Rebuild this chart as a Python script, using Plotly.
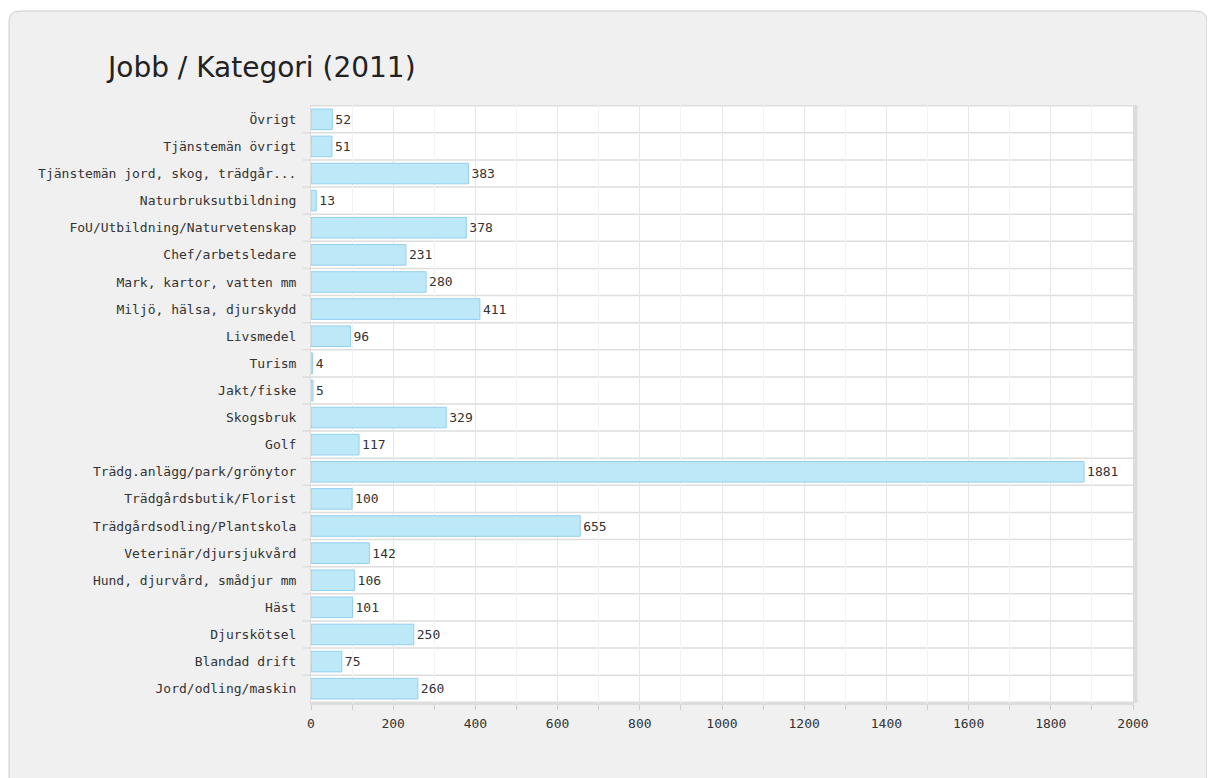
import plotly.graph_objects as go

# categories top to bottom, as in the chart
categories = [
    "Övrigt", "Tjänstemän övrigt", "Tjänstemän jord, skog, trädgår...",
    "Naturbruksutbildning", "FoU/Utbildning/Naturvetenskap", "Chef/arbetsledare",
    "Mark, kartor, vatten mm", "Miljö, hälsa, djurskydd", "Livsmedel", "Turism",
    "Jakt/fiske", "Skogsbruk", "Golf", "Trädg.anlägg/park/grönytor",
    "Trädgårdsbutik/Florist", "Trädgårdsodling/Plantskola", "Veterinär/djursjukvård",
    "Hund, djurvård, smådjur mm", "Häst", "Djurskötsel", "Blandad drift",
    "Jord/odling/maskin",
]
jobs = [52, 51, 383, 13, 378, 231, 280, 411, 96, 4, 5, 329, 117, 1881,
        100, 655, 142, 106, 101, 250, 75, 260]
x_ticks = [0, 200, 400, 600, 800, 1000, 1200, 1400, 1600, 1800, 2000]

font = "DejaVu Sans Mono, monospace"

# plot area in page pixels (page has an 8px body margin)
L, R, T, B = 311, 1133, 105, 703


def px(x):
    return (x - L) / (R - L)


def py(y):
    return (B - y) / (B - T)


fig = go.Figure()
fig.add_trace(go.Bar(
    x=jobs, y=categories, orientation="h",
    marker=dict(color="#bde8f8", line=dict(color="#94cff0", width=1)),
    width=0.76,
    texttemplate="%{x}", textposition="outside", cliponaxis=False,
    textfont=dict(family=font, size=13, color="#333333"),
    hoverinfo="x+y",
))

# rounded panel behind the chart
r = 11
panel = (f"M {px(9 + r)},{py(11)} L {px(1207 - r)},{py(11)} "
         f"Q {px(1207)},{py(11)} {px(1207)},{py(11 + r)} "
         f"L {px(1207)},{py(800)} L {px(9)},{py(800)} L {px(9)},{py(11 + r)} "
         f"Q {px(9)},{py(11)} {px(9 + r)},{py(11)} Z")
fig.add_shape(type="path", path=panel, xref="paper", yref="paper", layer="below",
              fillcolor="#f0f0f0", line=dict(color="#cccccc", width=1))
# white plotting area on top of the panel
fig.add_shape(type="rect", xref="paper", yref="paper", x0=0, x1=1, y0=0, y1=1,
              layer="below", fillcolor="white", line=dict(width=0))

fig.update_layout(
    width=1215, height=778,
    margin=dict(l=L - 8, r=1215 + 8 - R, t=T - 8, b=778 + 8 - B),
    paper_bgcolor="white", plot_bgcolor="white",
    showlegend=False, bargap=0.2,
    title=dict(text="Jobb / Kategori (2011)", x=100 / 1215, xanchor="left",
               y=1 - 59 / 778, yanchor="middle",
               font=dict(family="DejaVu Sans, Arial", size=28, color="#222222")),
    xaxis=dict(range=[0, 2000], tickvals=x_ticks, showgrid=True,
               gridcolor="#e6e6e6", gridwidth=1,
               minor=dict(dtick=100, showgrid=True, gridcolor="#f2f2f2",
                          ticks="outside", ticklen=5, tickcolor="#cccccc"),
               ticks="outside", ticklen=5, tickcolor="#cccccc",
               showline=True, linecolor="#dddddd", linewidth=2, mirror=False,
               zeroline=False, fixedrange=True,
               tickfont=dict(family=font, size=13, color="#333333"), ticklabelstandoff=2),
    yaxis=dict(autorange="reversed", type="category", showgrid=False,
               ticks="", showline=True, linecolor="#dddddd", linewidth=1,
               mirror=True, fixedrange=True, ticklabelstandoff=11,
               tickfont=dict(family=font, size=13, color="#333333")),
)

# row separators between categories
for i in range(len(categories) + 1):
    fig.add_shape(type="line", xref="x domain", yref="y",
                  x0=-0.01 if 0 < i < len(categories) else 0, x1=1,
                  y0=i - 0.5, y1=i - 0.5, layer="below",
                  line=dict(color="#dddddd", width=1.5))
fig.add_shape(type="line", xref="x domain", yref="paper", x0=1.003, x1=1.003,
              y0=0, y1=1, line=dict(color="#dcdcdc", width=4))

fig.write_html("out.html")
